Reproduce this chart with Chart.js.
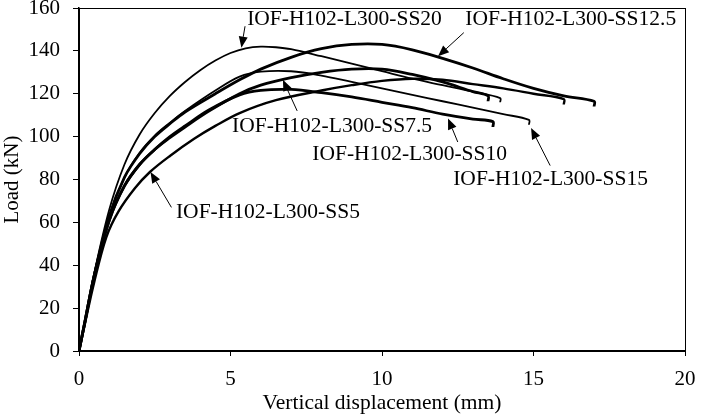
<!DOCTYPE html>
<html>
<head>
<meta charset="utf-8">
<script src="https://cdn.jsdelivr.net/npm/chart.js@4.4.1/dist/chart.umd.min.js"></script>
<style>
  body { margin: 0; background: #fff; }
</style>
</head>
<body>
<canvas id="loadChart" width="701" height="416"></canvas>
<script>
// Load vs vertical displacement
const ss20X = [0, 0.2, 0.5, 1.0, 1.5, 2.0, 2.5, 3.0, 3.5, 4.0, 4.5, 5.0, 5.5, 6, 6.5, 7, 8, 9, 10, 11, 12, 13, 13.9, 13.9];
const ss20Y = [0, 14, 36, 66, 87, 101, 111, 119, 125.5, 131, 135.5, 139, 141.2, 142, 141.7, 140.8, 137.5, 134, 130.5, 127, 124, 121, 118, 116];

const ss125X = [0, 0.2, 0.5, 1.0, 1.5, 2.0, 2.5, 3.0, 3.5, 4.5, 5.3, 6, 7, 8, 9, 10, 11, 12, 13, 14, 15, 16, 17, 17];
const ss125Y = [0, 14, 35, 63, 81, 92, 100, 106, 111.5, 120, 126.5, 131.5, 137, 141, 143, 143, 140.5, 136.5, 132, 127, 122.5, 119, 116.5, 114];

const ss15X = [0, 0.2, 0.5, 1.0, 1.5, 2.0, 2.5, 3.0, 3.5, 4.5, 5.3, 6, 7, 8, 9, 10, 11, 12, 13, 14, 14.85, 14.85];
const ss15Y = [0, 14, 35, 63, 81, 92.5, 100.5, 106.5, 112, 121.5, 128, 130.3, 130.5, 128.5, 125.5, 122.5, 119.5, 116.5, 113.5, 110.5, 107.8, 105.5];

const ss10X = [0, 0.2, 0.5, 1.0, 1.5, 2.0, 2.5, 3.0, 3.5, 4.3, 5.3, 6, 7, 8, 9, 10, 11, 12, 13, 13.66, 13.66];
const ss10Y = [0, 14, 35, 61, 77, 87, 94, 100, 105, 112.5, 119.5, 121.6, 122, 120.5, 118.5, 116, 113.5, 110.5, 108.2, 107, 104.5];

const ss75X = [0, 0.2, 0.5, 1.0, 1.5, 2.0, 2.5, 3.0, 3.5, 4.3, 5.3, 6, 7, 8, 9, 10, 11, 12, 13, 13.5, 13.5];
const ss75Y = [0, 14, 35, 61, 77, 87, 94, 99.5, 104.5, 112, 120, 124, 127.5, 130, 131.5, 131.5, 129, 125.5, 121, 119, 116.5];

const ss5X = [0, 0.2, 0.5, 0.9, 1.3, 1.85, 2.34, 3, 3.8, 4.5, 5.3, 6.5, 8, 9, 10, 11, 12, 13, 14, 15, 16, 16];
const ss5Y = [0, 13, 32, 53, 65, 76, 83.5, 91, 99, 105, 111, 117, 121.5, 124, 126, 127, 126.5, 124.5, 122.5, 120, 117.5, 115];

const xTicks = [0, 5, 10, 15, 20];
const yTicks = [0, 20, 40, 60, 80, 100, 120, 140, 160];

// label text, where it sits and where its arrow goes (axis units)
const callouts = [
  { text: 'IOF-H102-L300-SS20',   at: [5.55, 154.5], from: [5.48, 151.5], to: [5.36, 141.5] },
  { text: 'IOF-H102-L300-SS12.5', at: [12.75, 154.5], from: [12.7, 148.5], to: [11.85, 137.5] },
  { text: 'IOF-H102-L300-SS7.5',  at: [5.05, 105], from: [7.2, 112], to: [6.73, 126.5] },
  { text: 'IOF-H102-L300-SS10',   at: [7.7, 91.5], from: [12.5, 97.5], to: [12.18, 108.5] },
  { text: 'IOF-H102-L300-SS15',   at: [12.35, 80], from: [15.55, 86.5], to: [14.92, 104] },
  { text: 'IOF-H102-L300-SS5',    at: [3.2, 64.5], from: [3.05, 67], to: [2.36, 83.5] }
];

const FONT = "'Liberation Serif', 'Times New Roman', serif";

function pts(xs, ys) {
  return xs.map((x, i) => ({ x: x, y: ys[i] }));
}

function series(label, xs, ys, width) {
  return {
    label: label,
    data: pts(xs, ys),
    borderColor: '#000',
    borderWidth: width,
    pointRadius: 0,
    tension: 0.35,
    fill: false
  };
}

const frameAndNotes = {
  id: 'frameAndNotes',
  afterDatasetsDraw(chart) {
    const { ctx, chartArea: a, scales } = chart;
    const sx = scales.x, sy = scales.y;
    ctx.save();
    ctx.strokeStyle = '#000';
    ctx.lineWidth = 1;
    ctx.strokeRect(a.left + 0.5, a.top + 0.5, a.right - a.left, a.bottom - a.top);

    ctx.font = '21.5px ' + FONT;
    ctx.fillStyle = '#000';
    ctx.textAlign = 'left';
    ctx.textBaseline = 'middle';
    callouts.forEach(c => {
      ctx.fillText(c.text, sx.getPixelForValue(c.at[0]), sy.getPixelForValue(c.at[1]));
      const x1 = sx.getPixelForValue(c.from[0]), y1 = sy.getPixelForValue(c.from[1]);
      const x2 = sx.getPixelForValue(c.to[0]), y2 = sy.getPixelForValue(c.to[1]);
      const ang = Math.atan2(y2 - y1, x2 - x1);
      const len = 11, half = 4.5;
      const bx = x2 - len * Math.cos(ang), by = y2 - len * Math.sin(ang);
      ctx.beginPath();
      ctx.moveTo(x1, y1);
      ctx.lineTo(bx, by);
      ctx.lineWidth = 1;
      ctx.stroke();
      ctx.beginPath();
      ctx.moveTo(x2, y2);
      ctx.lineTo(bx - half * Math.sin(ang), by + half * Math.cos(ang));
      ctx.lineTo(bx + half * Math.sin(ang), by - half * Math.cos(ang));
      ctx.closePath();
      ctx.fill();
    });
    ctx.restore();
  }
};

new Chart(document.getElementById('loadChart'), {
  type: 'line',
  data: {
    datasets: [
      series('IOF-H102-L300-SS20', ss20X, ss20Y, 1.8),
      series('IOF-H102-L300-SS12.5', ss125X, ss125Y, 2.8),
      series('IOF-H102-L300-SS15', ss15X, ss15Y, 1.8),
      series('IOF-H102-L300-SS10', ss10X, ss10Y, 2.8),
      series('IOF-H102-L300-SS7.5', ss75X, ss75Y, 2.8),
      series('IOF-H102-L300-SS5', ss5X, ss5Y, 2.4)
    ]
  },
  options: {
    responsive: false,
    animation: false,
    layout: { padding: { left: 0, top: 8, right: 16, bottom: 0 } },
    plugins: {
      legend: { display: false },
      tooltip: { enabled: false }
    },
    scales: {
      x: {
        type: 'linear',
        min: 0,
        max: 20,
        afterBuildTicks: s => { s.ticks = xTicks.map(v => ({ value: v })); },
        afterFit: s => { s.height = 65; s.paddingLeft = 0; s.paddingRight = 0; },
        grid: { drawOnChartArea: false, tickLength: 5, color: '#000' },
        border: { color: '#000', width: 2 },
        ticks: { color: '#000', font: { family: FONT, size: 21 }, padding: 11, maxRotation: 0 },
        title: { display: true, text: 'Vertical displacement (mm)', color: '#000', font: { family: FONT, size: 21.5 }, padding: 0 }
      },
      y: {
        min: 0,
        max: 160,
        afterBuildTicks: s => { s.ticks = yTicks.map(v => ({ value: v })); },
        afterFit: s => { s.width = 79; s.paddingTop = 0; s.paddingBottom = 0; },
        grid: { drawOnChartArea: false, tickLength: 6, color: '#000' },
        border: { color: '#000', width: 1.5 },
        ticks: { color: '#000', font: { family: FONT, size: 21 }, padding: 13 },
        title: { display: true, text: 'Load (kN)', color: '#000', font: { family: FONT, size: 21 }, padding: 0 }
      }
    }
  },
  plugins: [frameAndNotes]
});
</script>
</body>
</html>
